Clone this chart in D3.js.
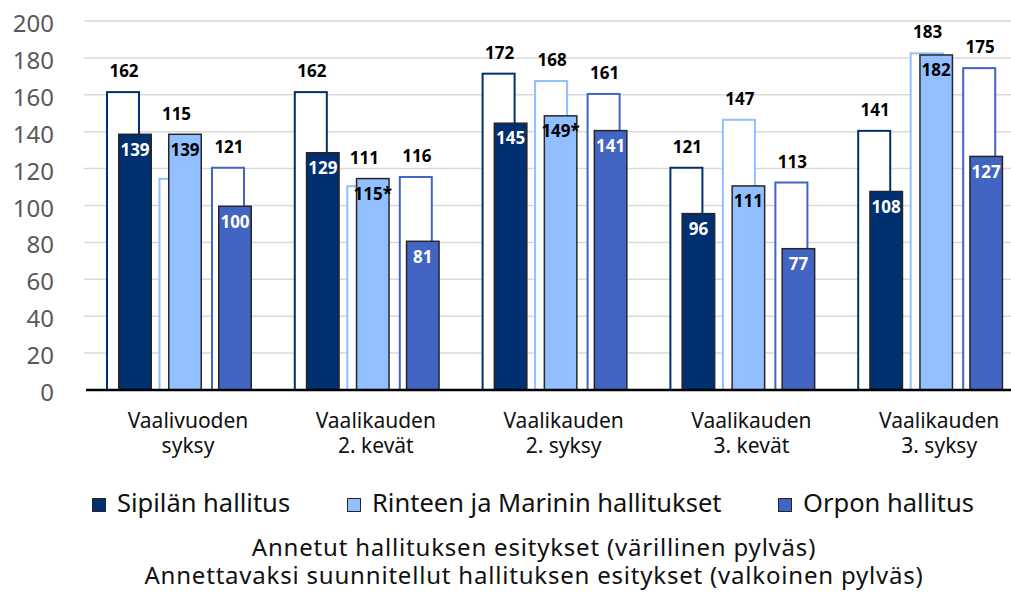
<!DOCTYPE html>
<html>
<head>
<meta charset="utf-8">
<script src="https://cdn.jsdelivr.net/npm/d3@7"></script>
<style>
    body { margin: 0; background: #fff; }
    svg { display: block; font-family: "Noto Sans", sans-serif; }
</style>
</head>
<body>
<svg id="chart" width="1011" height="604"></svg>
<script>
// categories (two-line labels)
var categories = ["Vaalivuoden syksy", "Vaalikauden 2. kevät", "Vaalikauden 2. syksy", "Vaalikauden 3. kevät", "Vaalikauden 3. syksy"];
var categoryLines = [["Vaalivuoden", "syksy"], ["Vaalikauden", "2. kevät"], ["Vaalikauden", "2. syksy"], ["Vaalikauden", "3. kevät"], ["Vaalikauden", "3. syksy"]];

var series = ["Sipilän hallitus", "Rinteen ja Marinin hallitukset", "Orpon hallitus"];
var colors = ["#013070", "#91bfff", "#4264c2"];
var labelColors = ["#fff", "#000", "#fff"];

// annetut (coloured bars)
var sipilaGiven = [139, 129, 145, 96, 108];
var rinneMarinGiven = [139, 115, 149, 111, 182];
var orpoGiven = [100, 81, 141, 77, 127];
// annettavaksi suunnitellut (white bars)
var sipilaPlanned = [162, 162, 172, 121, 141];
var rinneMarinPlanned = [115, 111, 168, 147, 183];
var orpoPlanned = [121, 116, 161, 113, 175];
// asterisk marks on given labels
var rinneMarinStar = [false, true, true, false, false];

var yTicks = [0, 20, 40, 60, 80, 100, 120, 140, 160, 180, 200];

var given = [sipilaGiven, rinneMarinGiven, orpoGiven];
var planned = [sipilaPlanned, rinneMarinPlanned, orpoPlanned];
var stars = [null, rinneMarinStar, null];

var svg = d3.select("#chart");

var y = d3.scaleLinear().domain([0, 200]).range([390, 21]);
var x0 = d3.scaleBand().domain(categories).range([94, 1033]);
// white bars and coloured bars sit on slightly different sub-bands
var xw = d3.scaleBand().domain(series).range([12, 151]).paddingInner(0.352);
var xf = d3.scaleBand().domain(series).range([24, 158]).paddingInner(0.32);

// gridlines
svg.append("g")
    .selectAll("line")
    .data(yTicks.filter(function (d) { return d > 0; }))
    .enter().append("line")
    .attr("x1", 84)
    .attr("x2", 1011)
    .attr("y1", function (d) { return y(d); })
    .attr("y2", function (d) { return y(d); })
    .attr("stroke", "#d9d9d9")
    .attr("stroke-width", 1.5);

// y tick labels
svg.append("g")
    .selectAll("text")
    .data(yTicks)
    .enter().append("text")
    .attr("x", 54)
    .attr("y", function (d) { return y(d) + 11; })
    .attr("text-anchor", "end")
    .attr("font-size", "24px")
    .attr("fill", "#595959")
    .text(function (d) { return d; });

// flatten to one record per bar
var bars = [];
categories.forEach(function (c, ci) {
    series.forEach(function (s, si) {
        bars.push({
            cat: c, ser: s, si: si,
            planned: planned[si][ci],
            given: given[si][ci],
            star: stars[si] ? stars[si][ci] : false
        });
    });
});

var plot = svg.append("g");

// white (planned) bars
plot.selectAll(".planned")
    .data(bars)
    .enter().append("rect")
    .attr("class", "planned")
    .attr("x", function (d) { return x0(d.cat) + xw(d.ser) + 1; })
    .attr("width", xw.bandwidth() - 2)
    .attr("y", function (d) { return y(d.planned) + 1; })
    .attr("height", function (d) { return y(0) - y(d.planned) - 1; })
    .attr("fill", "#fff")
    .attr("stroke", function (d) { return colors[d.si]; })
    .attr("stroke-width", 2);

// coloured (given) bars
plot.selectAll(".given")
    .data(bars)
    .enter().append("rect")
    .attr("class", "given")
    .attr("x", function (d) { return x0(d.cat) + xf(d.ser) + 0.75; })
    .attr("width", xf.bandwidth() - 1.5)
    .attr("y", function (d) { return y(d.given) + 0.75; })
    .attr("height", function (d) { return y(0) - y(d.given) - 0.75; })
    .attr("fill", function (d) { return colors[d.si]; })
    .attr("stroke", "#262626")
    .attr("stroke-width", 1.5);

// planned labels above the bars
plot.selectAll(".planned-label")
    .data(bars)
    .enter().append("text")
    .attr("class", "planned-label")
    .attr("x", function (d) { return x0(d.cat) + xw(d.ser) + xw.bandwidth() / 2 + 1; })
    .attr("y", function (d) { return y(Math.max(d.planned, d.given)) - 14; })
    .attr("text-anchor", "middle")
    .attr("font-size", "17px")
    .attr("font-weight", "bold")
    .attr("fill", "#000")
    .text(function (d) { return d.planned; });

// given labels inside the bars
plot.selectAll(".given-label")
    .data(bars)
    .enter().append("text")
    .attr("class", "given-label")
    .attr("x", function (d) { return x0(d.cat) + xf(d.ser) + xf.bandwidth() / 2; })
    .attr("y", function (d) { return y(d.given) + 22; })
    .attr("text-anchor", "middle")
    .attr("font-size", "17px")
    .attr("font-weight", "bold")
    .attr("fill", function (d) { return labelColors[d.si]; })
    .text(function (d) { return d.given + (d.star ? "*" : ""); });

// x axis line
svg.append("line")
    .attr("x1", 86)
    .attr("x2", 1011)
    .attr("y1", y(0))
    .attr("y2", y(0))
    .attr("stroke", "#000")
    .attr("stroke-width", 2.5);

// category labels, one text per line
svg.append("g")
    .selectAll("g")
    .data(categories)
    .enter().append("g")
    .each(function (c, ci) {
        d3.select(this).selectAll("text")
            .data(categoryLines[ci])
            .enter().append("text")
            .attr("x", x0(c) + 94)
            .attr("y", function (d, i) { return 428 + i * 25; })
            .attr("text-anchor", "middle")
            .attr("font-size", "21px")
            .attr("fill", "#111")
            .text(function (d) { return d; });
    });

// legend
var legendX = [92, 347, 778];
var legend = svg.append("g")
    .selectAll("g")
    .data(series)
    .enter().append("g")
    .attr("transform", function (d, i) { return "translate(" + legendX[i] + ",498)"; });

legend.append("rect")
    .attr("x", 0.5)
    .attr("y", 0.5)
    .attr("width", 13)
    .attr("height", 13)
    .attr("fill", function (d, i) { return colors[i]; })
    .attr("stroke", "#262626")
    .attr("stroke-width", 1);

legend.append("text")
    .attr("x", 25)
    .attr("y", 14)
    .attr("font-size", "25.5px")
    .attr("fill", "#111")
    .text(function (d) { return d; });

// bottom caption
var captions = ["Annetut hallituksen esitykset (värillinen pylväs)", "Annettavaksi suunnitellut hallituksen esitykset (valkoinen pylväs)"];
svg.append("g")
    .selectAll("text")
    .data(captions)
    .enter().append("text")
    .attr("x", 534)
    .attr("y", function (d, i) { return 556 + i * 28; })
    .attr("text-anchor", "middle")
    .attr("font-size", "24px")
    .attr("letter-spacing", "0.8px")
    .attr("fill", "#111")
    .text(function (d) { return d; });
</script>
</body>
</html>
